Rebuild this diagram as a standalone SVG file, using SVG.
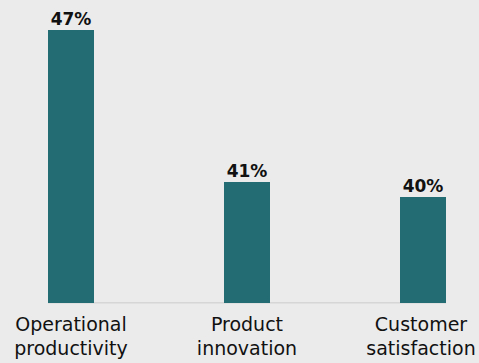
<svg xmlns="http://www.w3.org/2000/svg" width="479" height="363" viewBox="0 0 479 363">
<style>
.bar{fill:#246c73}
.val{font-family:"DejaVu Sans",sans-serif;font-weight:bold;font-size:17px;fill:#111;text-anchor:middle}
.cat{font-family:"DejaVu Sans",sans-serif;font-size:19px;fill:#111;text-anchor:middle}
</style>
<rect width="479" height="363" fill="#ebebeb"/>
<g id="axis"><rect x="48" y="302" width="398" height="1.5" fill="#d6d6d6"/></g>
<g id="bar1"><rect class="bar" x="48" y="30" width="46" height="273"/><text class="val" x="71" y="25">47%</text><text class="cat" x="71" y="331">Operational</text><text class="cat" x="71" y="355">productivity</text></g>
<g id="bar2"><rect class="bar" x="224" y="182" width="46" height="121"/><text class="val" x="247" y="177">41%</text><text class="cat" x="247" y="331">Product</text><text class="cat" x="247" y="355">innovation</text></g>
<g id="bar3"><rect class="bar" x="400" y="197" width="46" height="106"/><text class="val" x="423" y="192">40%</text><text class="cat" x="421" y="331">Customer</text><text class="cat" x="421" y="355">satisfaction</text></g>
</svg>
